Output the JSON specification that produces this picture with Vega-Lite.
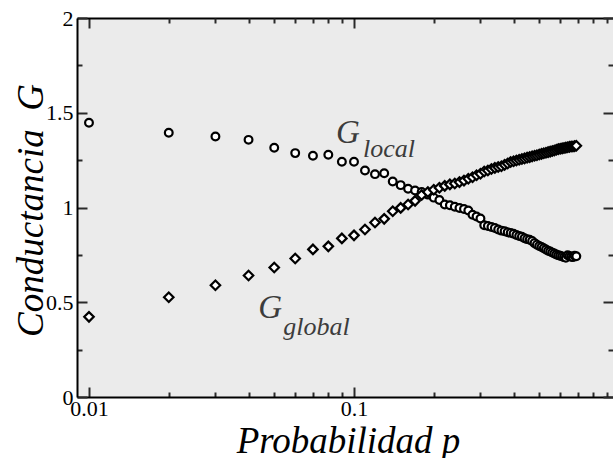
{
  "$schema": "https://vega.github.io/schema/vega-lite/v6.json",
  "width": 536,
  "height": 379,
  "autosize": {"type": "none"},
  "padding": {"left": 77, "top": 18, "right": 0, "bottom": 61},
  "background": "white",
  "config": {
    "view": {"stroke": null, "fill": "#ebebeb"},
    "font": "Liberation Serif",
    "axis": {
      "labelFont": "Liberation Serif",
      "titleFont": "Liberation Serif",
      "labelColor": "black",
      "titleColor": "black",
      "domainColor": "black",
      "domainWidth": 2,
      "tickColor": "#2a2a2a",
      "tickWidth": 2,
      "grid": false,
      "labelFlush": false,
      "labelOverlap": false,
      "zindex": 2
    }
  },
  "datasets": {
    "pts": [
      {"p": 0.01, "G": 1.447, "s": "local"},
      {"p": 0.02, "G": 1.394, "s": "local"},
      {"p": 0.03, "G": 1.375, "s": "local"},
      {"p": 0.04, "G": 1.357, "s": "local"},
      {"p": 0.05, "G": 1.315, "s": "local"},
      {"p": 0.06, "G": 1.287, "s": "local"},
      {"p": 0.07, "G": 1.273, "s": "local"},
      {"p": 0.08, "G": 1.278, "s": "local"},
      {"p": 0.09, "G": 1.241, "s": "local"},
      {"p": 0.10, "G": 1.241, "s": "local"},
      {"p": 0.11, "G": 1.195, "s": "local"},
      {"p": 0.12, "G": 1.176, "s": "local"},
      {"p": 0.13, "G": 1.181, "s": "local"},
      {"p": 0.14, "G": 1.137, "s": "local"},
      {"p": 0.15, "G": 1.118, "s": "local"},
      {"p": 0.16, "G": 1.099, "s": "local"},
      {"p": 0.17, "G": 1.090, "s": "local"},
      {"p": 0.18, "G": 1.082, "s": "local"},
      {"p": 0.19, "G": 1.068, "s": "local"},
      {"p": 0.20, "G": 1.052, "s": "local"},
      {"p": 0.21, "G": 1.040, "s": "local"},
      {"p": 0.22, "G": 1.016, "s": "local"},
      {"p": 0.23, "G": 1.012, "s": "local"},
      {"p": 0.24, "G": 1.004, "s": "local"},
      {"p": 0.25, "G": 0.997, "s": "local"},
      {"p": 0.26, "G": 0.992, "s": "local"},
      {"p": 0.27, "G": 0.984, "s": "local"},
      {"p": 0.28, "G": 0.962, "s": "local"},
      {"p": 0.29, "G": 0.952, "s": "local"},
      {"p": 0.30, "G": 0.942, "s": "local"},
      {"p": 0.31, "G": 0.906, "s": "local"},
      {"p": 0.32, "G": 0.902, "s": "local"},
      {"p": 0.33, "G": 0.897, "s": "local"},
      {"p": 0.34, "G": 0.892, "s": "local"},
      {"p": 0.35, "G": 0.884, "s": "local"},
      {"p": 0.36, "G": 0.878, "s": "local"},
      {"p": 0.37, "G": 0.875, "s": "local"},
      {"p": 0.38, "G": 0.869, "s": "local"},
      {"p": 0.39, "G": 0.866, "s": "local"},
      {"p": 0.40, "G": 0.862, "s": "local"},
      {"p": 0.41, "G": 0.855, "s": "local"},
      {"p": 0.42, "G": 0.850, "s": "local"},
      {"p": 0.43, "G": 0.846, "s": "local"},
      {"p": 0.44, "G": 0.838, "s": "local"},
      {"p": 0.45, "G": 0.833, "s": "local"},
      {"p": 0.46, "G": 0.830, "s": "local"},
      {"p": 0.47, "G": 0.823, "s": "local"},
      {"p": 0.48, "G": 0.812, "s": "local"},
      {"p": 0.49, "G": 0.804, "s": "local"},
      {"p": 0.50, "G": 0.797, "s": "local"},
      {"p": 0.51, "G": 0.792, "s": "local"},
      {"p": 0.52, "G": 0.785, "s": "local"},
      {"p": 0.53, "G": 0.778, "s": "local"},
      {"p": 0.54, "G": 0.772, "s": "local"},
      {"p": 0.55, "G": 0.768, "s": "local"},
      {"p": 0.56, "G": 0.762, "s": "local"},
      {"p": 0.57, "G": 0.757, "s": "local"},
      {"p": 0.58, "G": 0.752, "s": "local"},
      {"p": 0.59, "G": 0.748, "s": "local"},
      {"p": 0.60, "G": 0.745, "s": "local"},
      {"p": 0.61, "G": 0.742, "s": "local"},
      {"p": 0.62, "G": 0.738, "s": "local"},
      {"p": 0.63, "G": 0.735, "s": "local"},
      {"p": 0.64, "G": 0.748, "s": "local"},
      {"p": 0.65, "G": 0.744, "s": "local"},
      {"p": 0.66, "G": 0.740, "s": "local"},
      {"p": 0.67, "G": 0.738, "s": "local"},
      {"p": 0.68, "G": 0.745, "s": "local"},
      {"p": 0.69, "G": 0.743, "s": "local"},
      {"p": 0.01, "G": 0.423, "s": "global"},
      {"p": 0.02, "G": 0.526, "s": "global"},
      {"p": 0.03, "G": 0.590, "s": "global"},
      {"p": 0.04, "G": 0.641, "s": "global"},
      {"p": 0.05, "G": 0.683, "s": "global"},
      {"p": 0.06, "G": 0.731, "s": "global"},
      {"p": 0.07, "G": 0.779, "s": "global"},
      {"p": 0.08, "G": 0.795, "s": "global"},
      {"p": 0.09, "G": 0.837, "s": "global"},
      {"p": 0.10, "G": 0.853, "s": "global"},
      {"p": 0.11, "G": 0.884, "s": "global"},
      {"p": 0.12, "G": 0.921, "s": "global"},
      {"p": 0.13, "G": 0.940, "s": "global"},
      {"p": 0.14, "G": 0.980, "s": "global"},
      {"p": 0.15, "G": 0.998, "s": "global"},
      {"p": 0.16, "G": 1.016, "s": "global"},
      {"p": 0.17, "G": 1.035, "s": "global"},
      {"p": 0.18, "G": 1.066, "s": "global"},
      {"p": 0.19, "G": 1.082, "s": "global"},
      {"p": 0.20, "G": 1.094, "s": "global"},
      {"p": 0.21, "G": 1.104, "s": "global"},
      {"p": 0.22, "G": 1.114, "s": "global"},
      {"p": 0.23, "G": 1.122, "s": "global"},
      {"p": 0.24, "G": 1.127, "s": "global"},
      {"p": 0.25, "G": 1.134, "s": "global"},
      {"p": 0.26, "G": 1.142, "s": "global"},
      {"p": 0.27, "G": 1.152, "s": "global"},
      {"p": 0.28, "G": 1.160, "s": "global"},
      {"p": 0.29, "G": 1.170, "s": "global"},
      {"p": 0.30, "G": 1.178, "s": "global"},
      {"p": 0.31, "G": 1.190, "s": "global"},
      {"p": 0.32, "G": 1.195, "s": "global"},
      {"p": 0.33, "G": 1.203, "s": "global"},
      {"p": 0.34, "G": 1.209, "s": "global"},
      {"p": 0.35, "G": 1.214, "s": "global"},
      {"p": 0.36, "G": 1.218, "s": "global"},
      {"p": 0.37, "G": 1.225, "s": "global"},
      {"p": 0.38, "G": 1.232, "s": "global"},
      {"p": 0.39, "G": 1.240, "s": "global"},
      {"p": 0.40, "G": 1.244, "s": "global"},
      {"p": 0.41, "G": 1.248, "s": "global"},
      {"p": 0.42, "G": 1.252, "s": "global"},
      {"p": 0.43, "G": 1.256, "s": "global"},
      {"p": 0.44, "G": 1.259, "s": "global"},
      {"p": 0.45, "G": 1.263, "s": "global"},
      {"p": 0.46, "G": 1.266, "s": "global"},
      {"p": 0.47, "G": 1.270, "s": "global"},
      {"p": 0.48, "G": 1.273, "s": "global"},
      {"p": 0.49, "G": 1.276, "s": "global"},
      {"p": 0.50, "G": 1.280, "s": "global"},
      {"p": 0.51, "G": 1.283, "s": "global"},
      {"p": 0.52, "G": 1.286, "s": "global"},
      {"p": 0.53, "G": 1.289, "s": "global"},
      {"p": 0.54, "G": 1.292, "s": "global"},
      {"p": 0.55, "G": 1.295, "s": "global"},
      {"p": 0.56, "G": 1.298, "s": "global"},
      {"p": 0.57, "G": 1.301, "s": "global"},
      {"p": 0.58, "G": 1.305, "s": "global"},
      {"p": 0.59, "G": 1.308, "s": "global"},
      {"p": 0.60, "G": 1.310, "s": "global"},
      {"p": 0.61, "G": 1.312, "s": "global"},
      {"p": 0.62, "G": 1.314, "s": "global"},
      {"p": 0.63, "G": 1.316, "s": "global"},
      {"p": 0.64, "G": 1.318, "s": "global"},
      {"p": 0.65, "G": 1.320, "s": "global"},
      {"p": 0.66, "G": 1.322, "s": "global"},
      {"p": 0.67, "G": 1.322, "s": "global"},
      {"p": 0.68, "G": 1.324, "s": "global"},
      {"p": 0.69, "G": 1.326, "s": "global"}
    ],
    "ann": [
      {"p": 0.0855, "G": 1.343, "t": "G", "k": "big"},
      {"p": 0.1082, "G": 1.264, "t": "local", "k": "sub"},
      {"p": 0.04355, "G": 0.4176, "t": "G", "k": "big"},
      {"p": 0.0541, "G": 0.3295, "t": "global", "k": "sub"}
    ]
  },
  "layer": [
    {
      "data": {"name": "ann"},
      "transform": [{"filter": "datum.k == 'big'"}],
      "mark": {"type": "text", "align": "left", "baseline": "alphabetic", "font": "Liberation Serif", "fontStyle": "italic", "fontSize": 33, "color": "#3c3c3c"},
      "encoding": {
        "x": {
          "field": "p", "type": "quantitative",
          "scale": {"type": "log", "domain": [0.009011, 0.949], "nice": false},
          "axis": {"orient": "top", "values": [0.01, 0.1], "labels": false, "title": null, "domain": true, "tickSize": -10}
        },
        "y": {
          "field": "G", "type": "quantitative",
          "scale": {"domain": [0, 2], "nice": false, "zero": false},
          "axis": {"orient": "right", "values": [0, 0.5, 1, 1.5, 2], "labels": false, "title": null, "domain": false, "tickSize": -10}
        },
        "text": {"field": "t"}
      }
    },
    {
      "data": {"name": "ann"},
      "transform": [{"filter": "datum.k == 'sub'"}],
      "mark": {"type": "text", "align": "left", "baseline": "alphabetic", "font": "Liberation Serif", "fontStyle": "italic", "fontSize": 26, "color": "#3c3c3c"},
      "encoding": {
        "x": {
          "field": "p", "type": "quantitative",
          "scale": {"type": "log", "domain": [0.009011, 0.949], "nice": false},
          "axis": {"orient": "top", "values": [0.02, 0.03, 0.04, 0.05, 0.06, 0.07, 0.08, 0.09, 0.2, 0.3, 0.4, 0.5, 0.6, 0.7, 0.8, 0.9], "labels": false, "title": null, "domain": false, "tickSize": -5}
        },
        "y": {
          "field": "G", "type": "quantitative",
          "scale": {"domain": [0, 2], "nice": false, "zero": false},
          "axis": {"orient": "right", "values": [0.25, 0.75, 1.25, 1.75], "labels": false, "title": null, "domain": false, "tickSize": -5}
        },
        "text": {"field": "t"}
      }
    },
    {
      "data": {"name": "pts"},
      "mark": {"type": "point", "opacity": 0},
      "encoding": {
        "x": {
          "field": "p", "type": "quantitative",
          "scale": {"type": "log", "domain": [0.009011, 0.949], "nice": false},
          "axis": {"orient": "bottom", "values": [0.02, 0.03, 0.04, 0.05, 0.06, 0.07, 0.08, 0.09, 0.2, 0.3, 0.4, 0.5, 0.6, 0.7, 0.8, 0.9], "labels": false, "title": null, "domain": false, "tickSize": -5}
        },
        "y": {
          "field": "G", "type": "quantitative",
          "scale": {"domain": [0, 2], "nice": false, "zero": false},
          "axis": {"orient": "left", "values": [0.25, 0.75, 1.25, 1.75], "labels": false, "title": null, "domain": false, "tickSize": -5}
        }
      }
    },
    {
      "data": {"name": "pts"},
      "mark": {"type": "point", "filled": true, "fill": "white", "stroke": "black", "strokeWidth": 2.2, "opacity": 1},
      "encoding": {
        "x": {
          "field": "p", "type": "quantitative",
          "scale": {"type": "log", "domain": [0.009011, 0.949], "nice": false},
          "axis": {
            "orient": "bottom",
            "values": [0.01, 0.1],
            "labelExpr": "datum.value == 0.01 ? '0.01' : '0.1'",
            "labelFontSize": 22,
            "labelPadding": 11,
            "title": "Probabilidad p",
            "titleFontSize": 37,
            "titleFontStyle": "italic",
            "titleFontWeight": "normal",
            "titleBaseline": "alphabetic",
            "titleAlign": "center",
            "titleX": 271,
            "titleY": 55,
            "tickSize": -10
          }
        },
        "y": {
          "field": "G", "type": "quantitative",
          "scale": {"domain": [0, 2], "nice": false, "zero": false},
          "axis": {
            "orient": "left",
            "values": [0, 0.5, 1, 1.5, 2],
            "labelExpr": "format(datum.value, '~g')",
            "labelFontSize": 22,
            "labelPadding": 14,
            "labelBaseline": "middle",
            "title": "Conductancia\u00a0\u00a0G",
            "titleFontSize": 37,
            "titleFontStyle": "italic",
            "titleFontWeight": "normal",
            "titleBaseline": "alphabetic",
            "titleAngle": -90,
            "titleAlign": "center",
            "titleX": -35,
            "titleY": 192,
            "tickSize": -10
          }
        },
        "shape": {
          "field": "s", "type": "nominal",
          "scale": {"domain": ["local", "global"], "range": ["circle", "diamond"]},
          "legend": null
        },
        "size": {
          "field": "s", "type": "nominal",
          "scale": {"domain": ["local", "global"], "range": [60, 90]},
          "legend": null
        }
      }
    }
  ],
  "resolve": {"axis": {"x": "independent", "y": "independent"}}
}
